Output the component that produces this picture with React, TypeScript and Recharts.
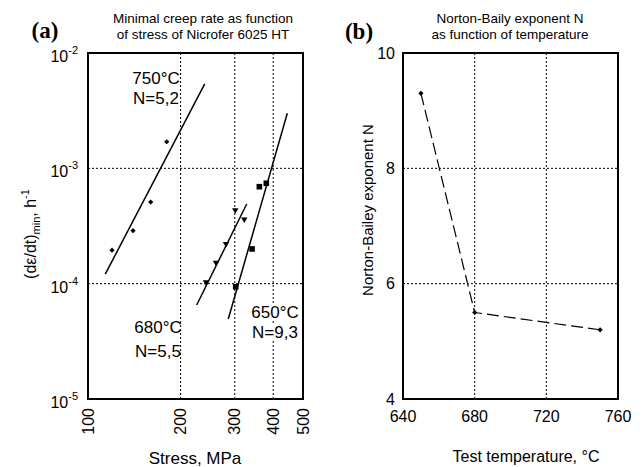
import React from 'react';
import {
  ScatterChart, Scatter, XAxis, YAxis, CartesianGrid, ReferenceArea, LineChart, Line,
} from 'recharts';

// ---- Panel (a): minimal creep rate vs stress (log-log) ----
const stress750 = [119.7, 140.1, 159.9, 180.3];
const rate750 = [1.95e-4, 2.88e-4, 5.1e-4, 1.7e-3];
const fitStress750 = [113.8, 239.6];
const fitRate750 = [1.21e-4, 5.39e-3];

const stress680 = [241.8, 260.7, 281.0, 301.2, 322.2];
const rate680 = [1.02e-4, 1.5e-4, 2.19e-4, 4.29e-4, 3.56e-4];
const fitStress680 = [225.6, 328.1];
const fitRate680 = [6.53e-5, 4.91e-4];

const stress650 = [302.1, 341.5, 360.6, 379.9];
const rate650 = [9.41e-5, 2.0e-4, 6.93e-4, 7.42e-4];
const fitStress650 = [285.8, 444.6];
const fitRate650 = [4.94e-5, 3.0e-3];

const stressTicks = [100, 200, 300, 400, 500];
const rateTicks = [1e-5, 1e-4, 1e-3, 1e-2];

// ---- Panel (b): Norton-Bailey exponent vs temperature ----
const temps = [650, 680, 750];
const exponentN = [9.3, 5.5, 5.2];
const tempTicks = [640, 680, 720, 760];
const nTicks = [4, 6, 8, 10];

const zip = (xs: number[], ys: number[]) => xs.map((x, i) => ({ x, y: ys[i] }));
const rightData = temps.map((t, i) => ({ t, n: exponentN[i] }));

const FONT = '"Liberation Sans", Arial, sans-serif';

const EmptyShape = () => <g />;
const DiamondShape = (p: any) => {
  const { cx, cy } = p;
  const s = 2.6;
  return <path d={`M${cx},${cy - s}L${cx + s},${cy}L${cx},${cy + s}L${cx - s},${cy}Z`} fill="#000" />;
};
const TriangleShape = (p: any) => {
  const { cx, cy } = p;
  return <path d={`M${cx - 3.2},${cy - 2.5}L${cx + 3.2},${cy - 2.5}L${cx},${cy + 3}Z`} fill="#000" />;
};
const SquareShape = (p: any) => {
  const { cx, cy } = p;
  return <rect x={cx - 2.8} y={cy - 2.8} width={5.6} height={5.6} fill="#000" />;
};
const DiamondDot = (p: any) => {
  const { cx, cy, index } = p;
  const s = 2.6;
  return <path key={index} d={`M${cx},${cy - s}L${cx + s},${cy}L${cx},${cy + s}L${cx - s},${cy}Z`} fill="#000" />;
};

const LogTick = (p: any) => {
  const { x, y, payload } = p;
  const exp = Math.round(Math.log10(payload.value));
  return (
    <text x={x - 10} y={y + 9} textAnchor="end" fontSize={16} fill="#000" fontFamily={FONT}>
      <tspan>10</tspan>
      <tspan dy={-8} fontSize={11}>{exp}</tspan>
    </text>
  );
};
const StressTick = (p: any) => {
  const { x, y, payload } = p;
  const ty = y + 9;
  return (
    <text transform={`rotate(-90 ${x} ${ty})`} x={x} y={ty} textAnchor="end" dominantBaseline="central"
      fontSize={16} fill="#000" fontFamily={FONT}>
      {payload.value}
    </text>
  );
};
const NTick = (p: any) => {
  const { x, y, payload } = p;
  return (
    <text x={x - 8} y={y} textAnchor="end" dominantBaseline="central" fontSize={16} fill="#000" fontFamily={FONT}>
      {payload.value}
    </text>
  );
};
const TempTick = (p: any) => {
  const { x, y, payload } = p;
  return (
    <text x={x} y={y + 17} textAnchor="middle" dominantBaseline="central" fontSize={16} fill="#000" fontFamily={FONT}>
      {payload.value}
    </text>
  );
};

const Txt = ({ x, y, children, size = 16, bg = false, rotate = 0, style = {} }: any) => (
  <div
    style={{
      position: 'absolute', left: x, top: y, whiteSpace: 'nowrap', lineHeight: 1,
      transform: `translate(-50%, -50%)${rotate ? ` rotate(${rotate}deg)` : ''}`,
      fontSize: size, fontFamily: FONT, color: '#000', background: bg ? '#fff' : 'transparent',
      ...style,
    }}
  >
    {children}
  </div>
);

export default function App() {
  return (
    <div style={{ position: 'absolute', left: 0, top: 0, width: 644, height: 467, background: '#fff', overflow: 'hidden' }}>
      <div style={{ position: 'absolute', left: 0, top: 0 }}>
        <ScatterChart width={330} height={467} margin={{ top: 53, right: 27, bottom: 0, left: 28 }}>
          <CartesianGrid stroke="#000" strokeDasharray="2 2" strokeWidth={1} />
          <XAxis type="number" dataKey="x" scale="log" domain={[100, 500]} ticks={stressTicks}
            allowDataOverflow axisLine={false} tickLine={false} tickSize={0} tickMargin={0} height={68}
            tick={<StressTick />} interval={0} />
          <YAxis type="number" dataKey="y" scale="log" domain={[1e-5, 1e-2]} ticks={rateTicks}
            allowDataOverflow axisLine={false} tickLine={false} tickSize={0} tickMargin={0} width={60}
            tick={<LogTick />} interval={0} />
          <Scatter data={zip(fitStress750, fitRate750)} line={{ stroke: '#000', strokeWidth: 1.5 }} shape={<EmptyShape />} isAnimationActive={false} />
          <Scatter data={zip(fitStress680, fitRate680)} line={{ stroke: '#000', strokeWidth: 1.5 }} shape={<EmptyShape />} isAnimationActive={false} />
          <Scatter data={zip(fitStress650, fitRate650)} line={{ stroke: '#000', strokeWidth: 1.5 }} shape={<EmptyShape />} isAnimationActive={false} />
          <Scatter data={zip(stress750, rate750)} shape={<DiamondShape />} isAnimationActive={false} />
          <Scatter data={zip(stress680, rate680)} shape={<TriangleShape />} isAnimationActive={false} />
          <Scatter data={zip(stress650, rate650)} shape={<SquareShape />} isAnimationActive={false} />
          <ReferenceArea x1={100} x2={500} y1={1e-5} y2={1e-2} fill="none" stroke="#000" strokeWidth={2} ifOverflow="visible" />
        </ScatterChart>
      </div>

      <div style={{ position: 'absolute', left: 330, top: 0 }}>
        <LineChart width={314} height={467} data={rightData} margin={{ top: 53, right: 26, bottom: 0, left: 13 }}>
          <CartesianGrid stroke="#000" strokeDasharray="2 2" strokeWidth={1} />
          <XAxis type="number" dataKey="t" domain={[640, 760]} ticks={tempTicks} allowDataOverflow
            axisLine={false} tickLine={false} tickSize={0} tickMargin={0} height={68} tick={<TempTick />} interval={0} />
          <YAxis type="number" domain={[4, 10]} ticks={nTicks} allowDataOverflow
            axisLine={false} tickLine={false} tickSize={0} tickMargin={0} width={60} tick={<NTick />} interval={0} />
          <Line dataKey="n" stroke="#000" strokeWidth={1.2} strokeDasharray="12 5" dot={<DiamondDot />}
            activeDot={false} isAnimationActive={false} />
          <ReferenceArea x1={640} x2={760} y1={4} y2={10} fill="none" stroke="#000" strokeWidth={2} ifOverflow="visible" />
        </LineChart>
      </div>

      {/* panel letters and titles */}
      <Txt x={45} y={30} size={23} style={{ fontFamily: '"Liberation Serif", "Times New Roman", serif', fontWeight: 'bold' }}>(a)</Txt>
      <Txt x={359} y={31} size={23} style={{ fontFamily: '"Liberation Serif", "Times New Roman", serif', fontWeight: 'bold' }}>(b)</Txt>
      <Txt x={203} y={19} size={13.5}>Minimal creep rate as function</Txt>
      <Txt x={203} y={35} size={13.5}>of stress of Nicrofer 6025 HT</Txt>
      <Txt x={510} y={19} size={13.5}>Norton-Baily exponent N</Txt>
      <Txt x={510} y={35} size={13.5}>as function of temperature</Txt>

      {/* annotations */}
      <Txt x={156} y={78} size={17}>750°C</Txt>
      <Txt x={156} y={98} size={17}>N=5,2</Txt>
      <Txt x={158} y={327} size={17}>680°C</Txt>
      <Txt x={158} y={351} size={17}>N=5,5</Txt>
      <Txt x={275} y={312} size={17} bg>650°C</Txt>
      <Txt x={275} y={332} size={17} bg>N=9,3</Txt>

      {/* axis titles */}
      <Txt x={195} y={458} size={17}>Stress, MPa</Txt>
      <Txt x={526} y={457} size={16}>Test temperature, °C</Txt>
      <Txt x={31} y={234} size={16} rotate={-90}>
        (dε/dt)<sub style={{ fontSize: 11, verticalAlign: 'sub' }}>min</sub>, h<sup style={{ fontSize: 11 }}>-1</sup>
      </Txt>
      <Txt x={367} y={210} size={15} rotate={-90}>Norton-Bailey exponent N</Txt>
    </div>
  );
}
